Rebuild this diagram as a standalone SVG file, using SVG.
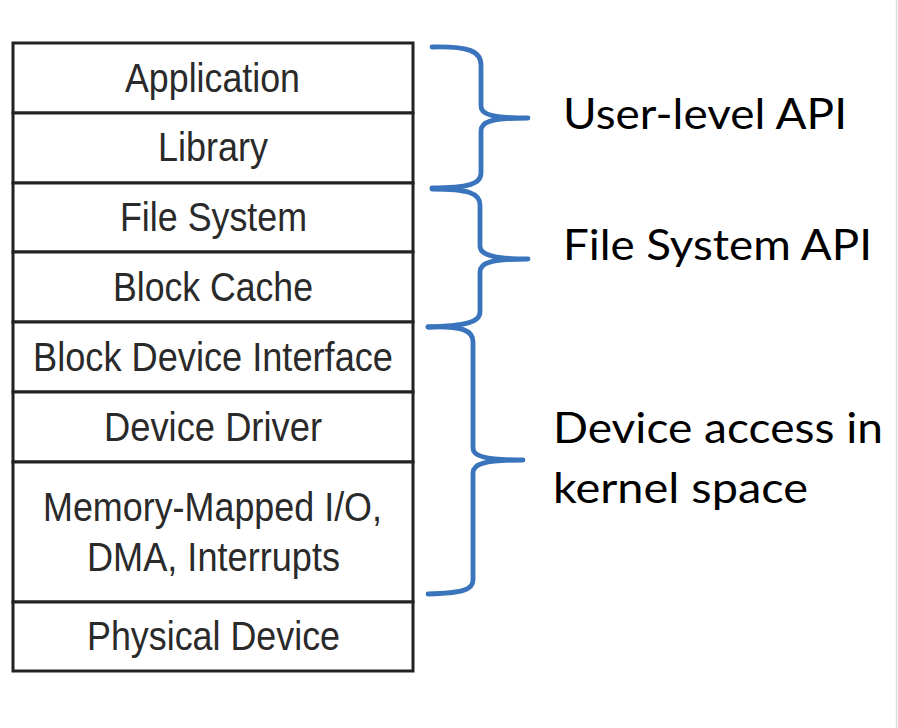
<svg xmlns="http://www.w3.org/2000/svg" width="898" height="728" viewBox="0 0 898 728">
<style>
.layer{fill:#fff;stroke:#222;stroke-width:3}
.lt{font-family:"Liberation Sans Narrow","Liberation Sans",Arial,sans-serif;font-size:41px;fill:#2a2a2a;text-anchor:start}
.brace{fill:none;stroke:#3a74bc;stroke-width:4.8;stroke-linecap:round;stroke-linejoin:round}
.rt{font-family:Lato,"Open Sans","Liberation Sans",sans-serif;font-size:43px;fill:#000}
</style>
<rect x="0" y="0" width="898" height="728" fill="#fff"/>
<line x1="896.5" y1="0" x2="896.5" y2="728" stroke="#dcdcdc" stroke-width="1.5"/>
<g id="stack">
<g id="n-application"><rect class="layer" x="13" y="43" width="400" height="70"/><text class="lt" x="125" y="92" textLength="175" lengthAdjust="spacingAndGlyphs">Application</text></g>
<g id="n-library"><rect class="layer" x="13" y="113" width="400" height="70"/><text class="lt" x="158" y="161" textLength="110" lengthAdjust="spacingAndGlyphs">Library</text></g>
<g id="n-filesystem"><rect class="layer" x="13" y="183" width="400" height="69"/><text class="lt" x="120" y="231" textLength="187" lengthAdjust="spacingAndGlyphs">File System</text></g>
<g id="n-blockcache"><rect class="layer" x="13" y="252" width="400" height="70"/><text class="lt" x="113" y="301" textLength="200" lengthAdjust="spacingAndGlyphs">Block Cache</text></g>
<g id="n-bdi"><rect class="layer" x="13" y="322" width="400" height="70"/><text class="lt" x="33" y="371" textLength="360" lengthAdjust="spacingAndGlyphs">Block Device Interface</text></g>
<g id="n-driver"><rect class="layer" x="13" y="392" width="400" height="70"/><text class="lt" x="104" y="441" textLength="218" lengthAdjust="spacingAndGlyphs">Device Driver</text></g>
<g id="n-mmio"><rect class="layer" x="13" y="462" width="400" height="140"/><text class="lt" x="43" y="521" textLength="339" lengthAdjust="spacingAndGlyphs">Memory-Mapped I/O,</text><text class="lt" x="87" y="571" textLength="253" lengthAdjust="spacingAndGlyphs">DMA, Interrupts</text></g>
<g id="n-physical"><rect class="layer" x="13" y="602" width="400" height="69"/><text class="lt" x="87" y="650" textLength="253" lengthAdjust="spacingAndGlyphs">Physical Device</text></g>
</g>
<g id="connectors">
<path class="brace" d="M432,47 C468,46 481,51 481,65 L481,106 C481,114 490,118 528,118 C490,118 481,122 481,131 L481,173 C481,184 468,188 432,188"/>
<path class="brace" d="M432,189 C468,189 480,193 480,205 L480,246 C480,254 490,259 528,259 C490,259 480,263 480,272 L480,312 C480,322 466,326 428,327"/>
<path class="brace" d="M428,327 C462,326 473,330 473,342 L473,448 C473,456 484,460 523,460 C484,460 473,464 473,473 L473,580 C473,590 462,593 428,594"/>
</g>
<g id="labels">
<text class="rt" x="563" y="129" textLength="284" lengthAdjust="spacingAndGlyphs">User-level API</text>
<text class="rt" x="563" y="260" textLength="309" lengthAdjust="spacingAndGlyphs">File System API</text>
<text class="rt" x="553" y="443" textLength="330" lengthAdjust="spacingAndGlyphs">Device access in</text>
<text class="rt" x="553" y="503" textLength="255" lengthAdjust="spacingAndGlyphs">kernel space</text>
</g>
</svg>
